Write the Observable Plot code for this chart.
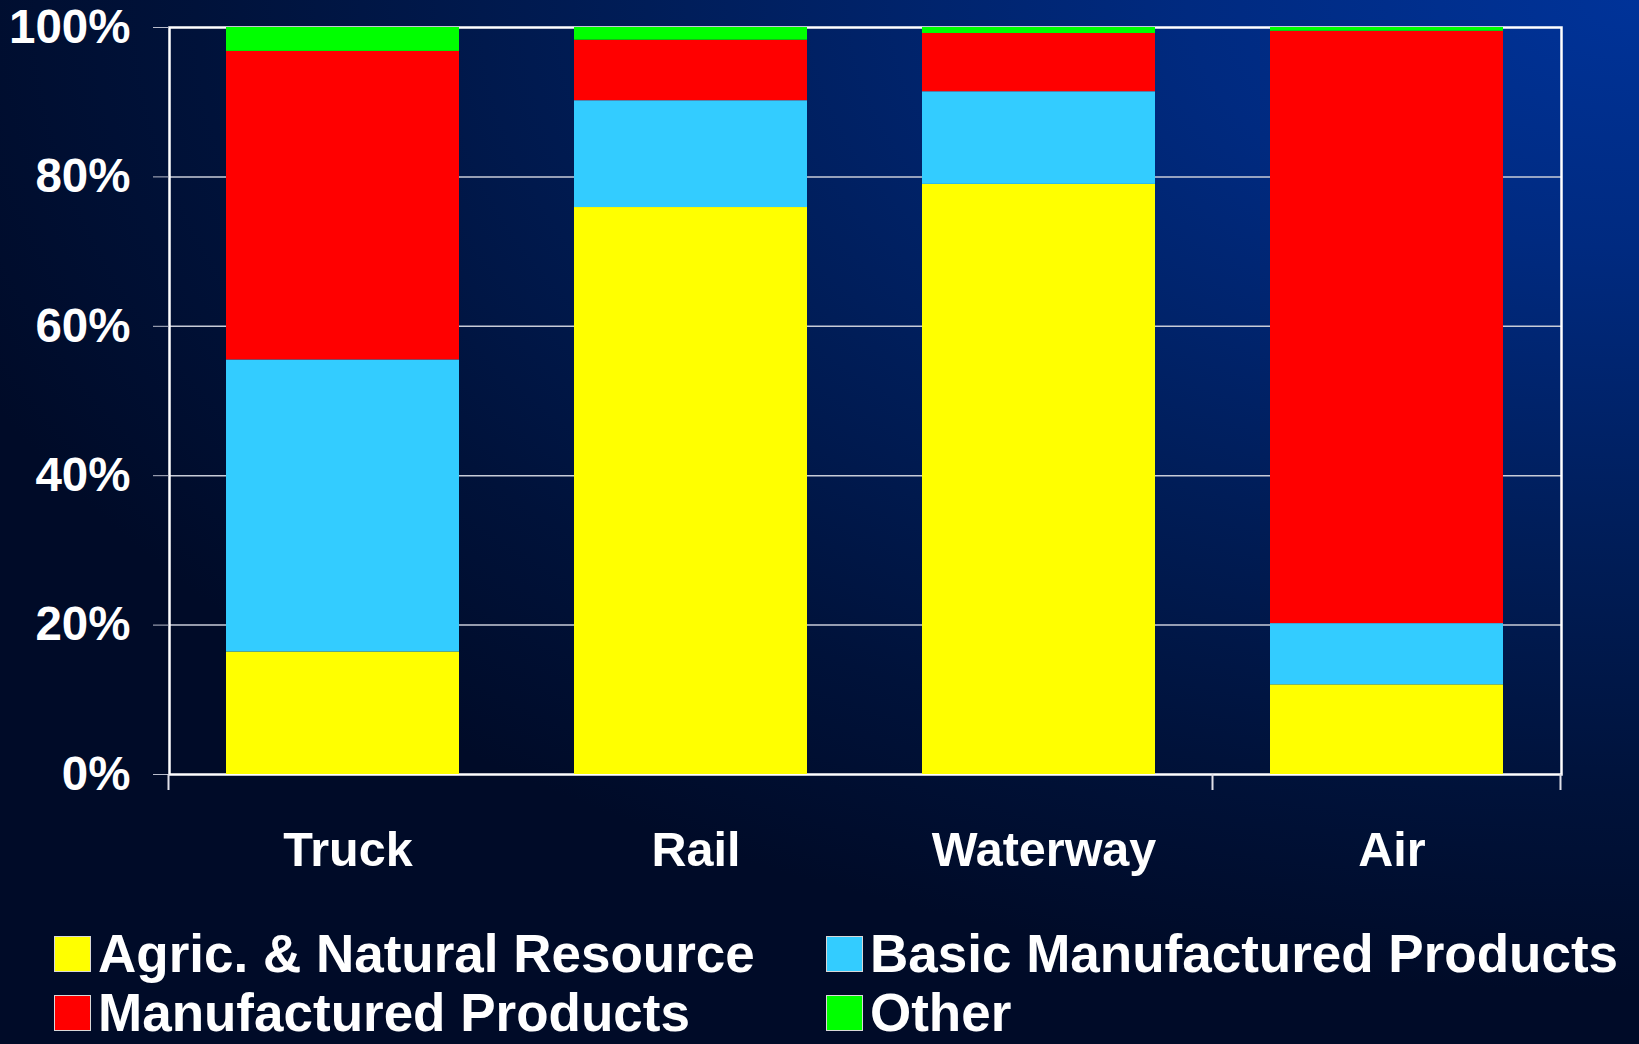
<!DOCTYPE html>
<html>
<head>
<meta charset="utf-8">
<script src="https://cdn.jsdelivr.net/npm/d3@7"></script>
<script src="https://cdn.jsdelivr.net/npm/@observablehq/plot@0.6"></script>
<style>
  html, body { margin: 0; padding: 0; }
  body {
    width: 1639px; height: 1044px; overflow: hidden; position: relative;
    background: radial-gradient(ellipse 110% 95% at 100% 0%, #003399 0%, #002a80 25%, #001d58 55%, #00123a 80%, #000b28 100%);
    font-family: "Liberation Sans", Arial, sans-serif;
  }
  #chart { position: absolute; left: 0; top: 0; }
  .legend-item { position: absolute; display: flex; align-items: center; color: #fff; font-weight: bold; font-size: 53px; white-space: nowrap; line-height: 0.85; }
  .sw { width: 37px; height: 36px; border: 1.5px solid #d8d8d8; margin-right: 7px; box-sizing: border-box; }
</style>
</head>
<body>
<div id="chart"></div>
<div id="legend"></div>
<script>
const categories = ["Truck", "Rail", "Waterway", "Air"];
const seriesNames = ["Agric. & Natural Resource", "Basic Manufactured Products", "Manufactured Products", "Other"];
const agric = [16.4, 75.9, 79.0, 12.0];
const basic = [39.1, 14.3, 12.4, 8.2];
const manuf = [41.3, 8.1, 7.8, 79.3];
const other = [3.2, 1.7, 0.8, 0.5];
const seriesColors = ["#ffff00", "#33ccff", "#ff0000", "#00ff00"];
const yTicks = [0, 20, 40, 60, 80, 100];
const xTickBefore = ["Truck", "Air"]; // visible category-boundary ticks (plus the right end)

const seriesValues = [agric, basic, manuf, other];
const data = [];
categories.forEach((c, i) => {
  seriesNames.forEach((s, j) => data.push({mode: c, series: s, value: seriesValues[j][i]}));
});

const plot = Plot.plot({
  width: 1639,
  height: 900,
  marginLeft: 169,
  marginRight: 78,
  marginTop: 27,
  marginBottom: 126,
  style: {background: "transparent", color: "white", fontFamily: "Liberation Sans, Arial, sans-serif", fontWeight: "bold", fontSize: "47px", overflow: "visible"},
  x: {domain: categories, paddingInner: 0.33, paddingOuter: 0.165, label: null},
  y: {domain: [0, 100], label: null},
  color: {domain: seriesNames, range: seriesColors},
  marks: [
    Plot.gridY(yTicks.slice(1, -1), {stroke: "#c8ccd8", strokeOpacity: 1, strokeWidth: 1.5}),
    Plot.frame({stroke: "white", strokeWidth: 2.5}),
    Plot.barY(data, {x: "mode", y: "value", fill: "series", order: seriesNames}),
    Plot.axisY(yTicks, {tickSize: 16, tickPadding: 23, tickFormat: d => d + "%", stroke: "#b8bccb", fill: "white", fontSize: 47.5, fontWeight: "bold"}),
    Plot.axisX({tickSize: 0, tickPadding: 57, dx: 5, fill: "white", fontSize: 48.5, fontWeight: "bold"})
  ]
});
document.getElementById("chart").appendChild(plot);

// category-boundary ticks below the axis, placed from the band scale
const xs = plot.scale("x");
const gap = (xs.step - xs.bandwidth) / 2;
const yScale = plot.scale("y");
const y0 = yScale.apply(0);
const boundaries = xTickBefore.map(c => xs.apply(c) - gap);
boundaries.push(xs.apply(categories[categories.length - 1]) + xs.bandwidth + gap);
const svg = d3.select(plot.tagName === "svg" ? plot : plot.querySelector("svg"));
svg.append("g").selectAll("line").data(boundaries).join("line")
  .attr("x1", d => d).attr("x2", d => d)
  .attr("y1", y0).attr("y2", y0 + 16)
  .attr("stroke", "#e0e0e8").attr("stroke-width", 2);

// legend
const legendPos = [
  {left: 54, top: 931},
  {left: 826, top: 931},
  {left: 54, top: 990},
  {left: 826, top: 990}
];
const legend = document.getElementById("legend");
seriesNames.forEach((name, k) => {
  const item = document.createElement("div");
  item.className = "legend-item";
  item.style.left = legendPos[k].left + "px";
  item.style.top = legendPos[k].top + "px";
  const sw = document.createElement("div");
  sw.className = "sw";
  sw.style.background = seriesColors[k];
  const t = document.createElement("span");
  t.textContent = name;
  item.appendChild(sw);
  item.appendChild(t);
  legend.appendChild(item);
});
</script>
</body>
</html>
